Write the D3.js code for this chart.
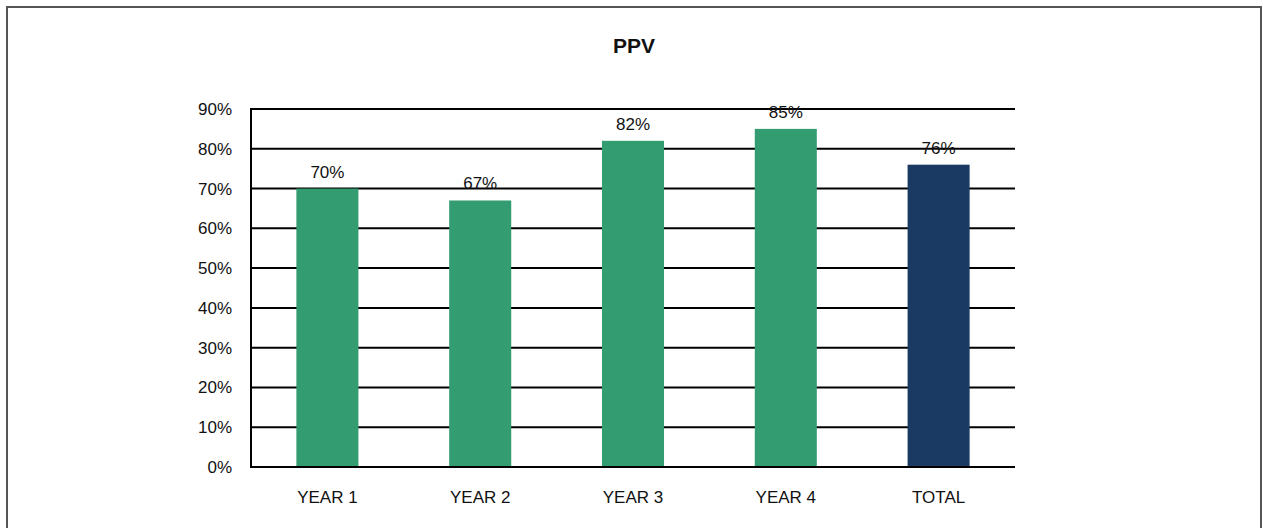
<!doctype html>
<html>
  <style>
    body {
      margin: 0;
      background-color: #fff;
    }
    text {
      font-family: "Liberation Sans", Arial, sans-serif;
      fill: #111;
    }
  </style>
  <body>
  <script src="https://cdn.jsdelivr.net/npm/d3@7/dist/d3.min.js" charset="utf-8"></script>
  <script>
    var categories = ['YEAR 1', 'YEAR 2', 'YEAR 3', 'YEAR 4', 'TOTAL'];
    var ppv = [70, 67, 82, 85, 76];
    var yTicks = [0, 10, 20, 30, 40, 50, 60, 70, 80, 90];

    var width = 1267,
        height = 528;

    var svg = d3.select('body').append('svg')
        .attr('width', width)
        .attr('height', height);

    // outer frame (bottom edge falls off the picture)
    svg.append('path')
        .attr('d', 'M7,' + (height + 10) + 'V7H1261V' + (height + 10))
        .attr('fill', 'none')
        .attr('stroke', '#555')
        .attr('stroke-width', 2);

    // plot area (note: "top" is taken by window.top)
    var plotL = 251, plotR = 1015, plotT = 109, plotB = 467;

    var x = d3.scaleBand()
        .domain(categories)
        .range([plotL, plotR])
        .paddingInner(0.594)
        .paddingOuter(0.297);

    var y = d3.scaleLinear()
        .domain([0, 90])
        .range([plotB, plotT]);

    var data = categories.map(function (c, i) {
      return {cat: c, value: ppv[i]};
    });

    // gridlines
    svg.append('g').selectAll('line')
        .data(yTicks.slice(1))
        .enter().append('line')
        .attr('x1', plotL)
        .attr('x2', plotR)
        .attr('y1', function (d) { return y(d); })
        .attr('y2', function (d) { return y(d); })
        .attr('stroke', '#000')
        .attr('stroke-width', 2);

    // bars
    svg.append('g').selectAll('rect')
        .data(data)
        .enter().append('rect')
        .attr('x', function (d) { return x(d.cat); })
        .attr('width', x.bandwidth())
        .attr('y', function (d) { return y(d.value); })
        .attr('height', function (d) { return plotB - y(d.value); })
        .attr('fill', function (d) { return d.cat === 'TOTAL' ? '#1b3a63' : '#339d71'; });

    // axis lines
    svg.append('line')
        .attr('x1', plotL).attr('x2', plotL)
        .attr('y1', plotT - 1).attr('y2', plotB + 1)
        .attr('stroke', '#000').attr('stroke-width', 2);
    svg.append('line')
        .attr('x1', plotL).attr('x2', plotR)
        .attr('y1', plotB).attr('y2', plotB)
        .attr('stroke', '#000').attr('stroke-width', 2);

    // y tick labels
    svg.append('g').selectAll('text')
        .data(yTicks)
        .enter().append('text')
        .attr('x', 232)
        .attr('y', function (d) { return y(d); })
        .attr('dy', '0.35em')
        .attr('text-anchor', 'end')
        .style('font-size', '17px')
        .text(function (d) { return d + '%'; });

    // x labels
    svg.append('g').selectAll('text')
        .data(categories)
        .enter().append('text')
        .attr('x', function (d) { return x(d) + x.bandwidth() / 2; })
        .attr('y', 503)
        .attr('text-anchor', 'middle')
        .style('font-size', '17px')
        .text(function (d) { return d; });

    // value labels
    svg.append('g').selectAll('text')
        .data(data)
        .enter().append('text')
        .attr('x', function (d) { return x(d.cat) + x.bandwidth() / 2; })
        .attr('y', function (d) { return y(d.value) - 11; })
        .attr('text-anchor', 'middle')
        .style('font-size', '17px')
        .text(function (d) { return d.value + '%'; });

    // title
    svg.append('text')
        .attr('x', 634)
        .attr('y', 53)
        .attr('text-anchor', 'middle')
        .style('font-size', '21px')
        .style('font-weight', 'bold')
        .text('PPV');
  </script>
  </body>
</html>
